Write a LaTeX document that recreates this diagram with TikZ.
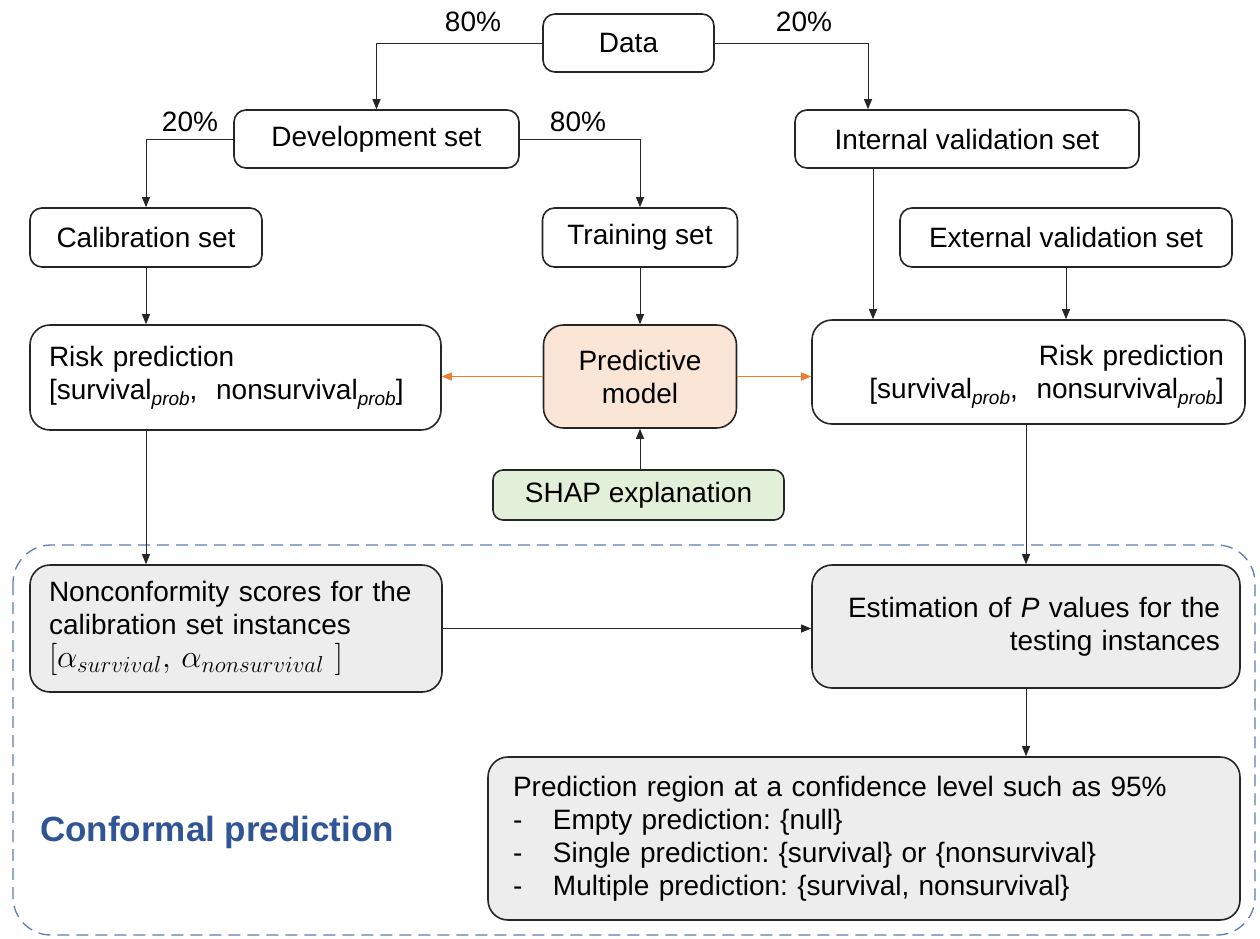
\RequirePackage{fix-cm}
\documentclass[tikz,border=0pt]{standalone}
\usepackage{fontspec}
\setmainfont{Liberation Sans}
\DeclareMathSizes{28}{28}{20}{16}
\usetikzlibrary{arrows.meta}
\definecolor{peach}{HTML}{FBE5D6}
\definecolor{lgreen}{HTML}{E2F0D9}
\definecolor{lgray}{HTML}{EDEDED}
\definecolor{orng}{HTML}{ED7D31}
\definecolor{dashblue}{HTML}{5A7DB5}
\definecolor{txtblue}{HTML}{2F5597}
\definecolor{edge}{HTML}{262626}
\newcommand\probsub{\raisebox{-6pt}{\fontsize{19}{19}\selectfont\itshape prob}}
\frenchspacing
\begin{document}
\begin{tikzpicture}[x=1pt,y=-1pt,
  box/.style={draw=edge, line width=1.6pt, rounded corners=12pt, inner sep=0pt,
    font=\fontsize{28}{33}\selectfont, align=center},
  bigbox/.style={box, rounded corners=20pt},
  arr/.style={draw=black!85, line width=0.9pt, -{Triangle[length=10pt,width=8pt]}},
  oarr/.style={draw=orng, line width=0.9pt, -{Triangle[length=10pt,width=8pt]}},
  pct/.style={font=\fontsize{28}{33}\selectfont, inner sep=0pt}
]
\useasboundingbox (0,0) rectangle (1260,938);
% dashed frame
\draw[dashblue, line width=1.3pt, dash pattern=on 12pt off 7pt, rounded corners=38pt]
  (13,545) rectangle (1255,935);
\node[font=\fontsize{35}{40}\selectfont\bfseries, text=txtblue, anchor=west, inner sep=0pt] (cp) at (40,832) {Conformal prediction};

% nodes
\node[box, minimum width=171pt, minimum height=58pt] (data) at (628.5,43) {Data};
\node[box, minimum width=285pt, minimum height=58pt] (dev) at (376.5,139) {Development set};
\node[box, minimum width=344pt, minimum height=58pt] (ivs) at (967,139) {Internal validation set};
\node[box, minimum width=232pt, minimum height=59pt] (cal) at (146,237.5) {Calibration set};
\node[box, minimum width=195pt, minimum height=59pt] (train) at (640,237.5) {Training set};
\node[box, minimum width=332pt, minimum height=59pt] (evs) at (1066,237.5) {External validation set};
\node[bigbox, minimum width=411pt, minimum height=105pt, text width=373pt, align=left] (riskL) at (235.5,377.5)
  {Risk prediction\\{}[survival\probsub,\ \ nonsurvival\probsub]};
\node[bigbox, fill=peach, minimum width=193pt, minimum height=103pt] (pm) at (640,376.5) {Predictive\\model};
\node[bigbox, minimum width=433pt, minimum height=104pt, text width=391pt, align=right] (riskR) at (1028.5,372)
  {\rule{0pt}{30pt}Risk prediction\\{}[survival\probsub,\ \ nonsurvival\probsub]};
\node[box, rounded corners=10pt, fill=lgreen, minimum width=291pt, minimum height=50pt] (shap) at (638.5,495) {SHAP explanation};
\node[bigbox, fill=lgray, minimum width=412pt, minimum height=127pt, text width=374pt, align=left] (nonc) at (236,628.5)
  {Nonconformity scores for the\\calibration set instances\\\scalebox{1.15}{$[\alpha_{survival},\, \alpha_{nonsurvival}\ ]$}};
\node[bigbox, fill=lgray, minimum width=428pt, minimum height=123pt, text width=388pt, align=right] (est) at (1026,626.5)
  {Estimation of \textit{P} values for the\\testing instances};
\node[bigbox, fill=lgray, minimum width=752pt, minimum height=163pt, text width=702pt, align=left] (pr) at (864,838.5)
  {Prediction region at a confidence level such as 95\%\\
   \makebox[40pt][l]{-}Empty prediction: \{null\}\\
   \makebox[40pt][l]{-}Single prediction: \{survival\} or \{nonsurvival\}\\
   \makebox[40pt][l]{-}Multiple prediction: \{survival, nonsurvival\}};

% connectors
\draw[arr] (data.west) -| (dev.north);
\draw[arr] (data.east) -| ([xshift=-99pt]ivs.north);
\node[pct] (p1) at (473,22) {80\%};
\node[pct] (p2) at (804,22) {20\%};
\draw[arr] (dev.west) -| (cal.north);
\draw[arr] (dev.east) -| (train.north);
\node[pct] (p3) at (190,122) {20\%};
\node[pct] (p4) at (578,122) {80\%};
\draw[arr] (cal.south) -- (cal.south |- riskL.north);
\draw[arr] (train.south) -- (pm.north);
\draw[arr] (evs.south) -- (evs.south |- riskR.north);
\draw[arr] ([xshift=-94pt]ivs.south) -- ([xshift=-94pt]ivs.south |- riskR.north);
\draw[oarr] (pm.west) -- (pm.west -| riskL.east);
\draw[oarr] (pm.east) -- (pm.east -| riskR.west);
\draw[arr] (shap.north -| pm.south) -- (pm.south);
\draw[arr] (cal.south |- riskL.south) -- (cal.south |- nonc.north);
\draw[arr] (est.north |- riskR.south) -- (est.north);
\draw[arr] (nonc.east) -- (nonc.east -| est.west);
\draw[arr] (est.south) -- (est.south |- pr.north);
\end{tikzpicture}
\end{document}
